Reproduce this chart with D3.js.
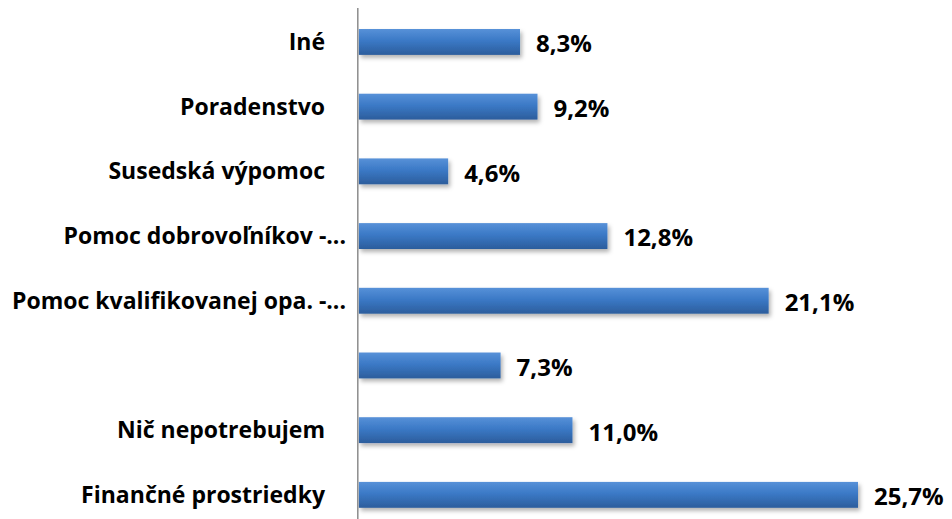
<!DOCTYPE html>
<html>
<head>
<meta charset="utf-8">
<script src="https://cdn.jsdelivr.net/npm/d3@7"></script>
<style>
  body { margin: 0; background: #fff; }
  text { font-family: "Open Sans", Lato, sans-serif; font-weight: bold; fill: #000; }
</style>
</head>
<body>
<div id="chart"></div>
<script>
// Chart data, top to bottom
const categories = ["Iné", "Poradenstvo", "Susedská výpomoc", "Pomoc dobrovoľníkov -...",
    "Pomoc kvalifikovanej opa. -...", "", "Nič nepotrebujem", "Finančné prostriedky"];
const values = [8.3, 9.2, 4.6, 12.8, 21.1, 7.3, 11.0, 25.7];
const valueLabels = ["8,3%", "9,2%", "4,6%", "12,8%", "21,1%", "7,3%", "11,0%", "25,7%"];

const width = 952, height = 519;
const svg = d3.select("#chart").append("svg")
    .attr("width", width)
    .attr("height", height);

const defs = svg.append("defs");
const grad = defs.append("linearGradient")
    .attr("id", "barGrad")
    .attr("x1", 0).attr("y1", 0).attr("x2", 0).attr("y2", 1);
grad.append("stop").attr("offset", "0%").attr("stop-color", "#5791d8");
grad.append("stop").attr("offset", "45%").attr("stop-color", "#3b79c6");
grad.append("stop").attr("offset", "100%").attr("stop-color", "#2c5d9c");

const shadow = defs.append("filter").attr("id", "shadow")
    .attr("x", "-5%").attr("y", "-30%").attr("width", "115%").attr("height", "190%");
shadow.append("feDropShadow")
    .attr("dx", 2).attr("dy", 3).attr("stdDeviation", 2)
    .attr("flood-color", "#000").attr("flood-opacity", 0.3);

const x = d3.scaleLinear()
    .domain([0, 25.7])
    .range([358.8, 858]);

const idx = d3.range(categories.length);
const y = d3.scaleBand()
    .domain(idx)
    .range([9.6, 527.2])
    .paddingInner(0.6)
    .paddingOuter(0.3);

// Bars
svg.selectAll(".bar")
    .data(idx)
    .enter()
    .append("rect")
    .attr("class", "bar")
    .attr("x", x(0))
    .attr("y", i => y(i))
    .attr("width", i => x(values[i]) - x(0))
    .attr("height", y.bandwidth())
    .attr("fill", "url(#barGrad)")
    .attr("filter", "url(#shadow)");

// Vertical axis line
svg.append("line")
    .attr("x1", x(0) - 1).attr("x2", x(0) - 1)
    .attr("y1", 8).attr("y2", height)
    .attr("stroke", "#8c8c8c")
    .attr("stroke-width", 1.5);

// Category labels (truncated ones sit closer to the axis)
svg.selectAll(".cat")
    .data(idx)
    .enter()
    .append("text")
    .attr("class", "cat")
    .attr("x", i => categories[i].endsWith("...") ? 346 : 325)
    .attr("y", i => y(i) + y.bandwidth() / 2)
    .attr("dy", "0.35em")
    .attr("text-anchor", "end")
    .style("font-size", "23px")
    .text(i => categories[i]);

// Value labels
svg.selectAll(".val")
    .data(idx)
    .enter()
    .append("text")
    .attr("class", "val")
    .attr("x", i => x(values[i]) + 16)
    .attr("y", i => y(i) + y.bandwidth() / 2 + 2)
    .attr("dy", "0.35em")
    .style("font-size", "24px")
    .text(i => valueLabels[i]);
</script>
</body>
</html>
